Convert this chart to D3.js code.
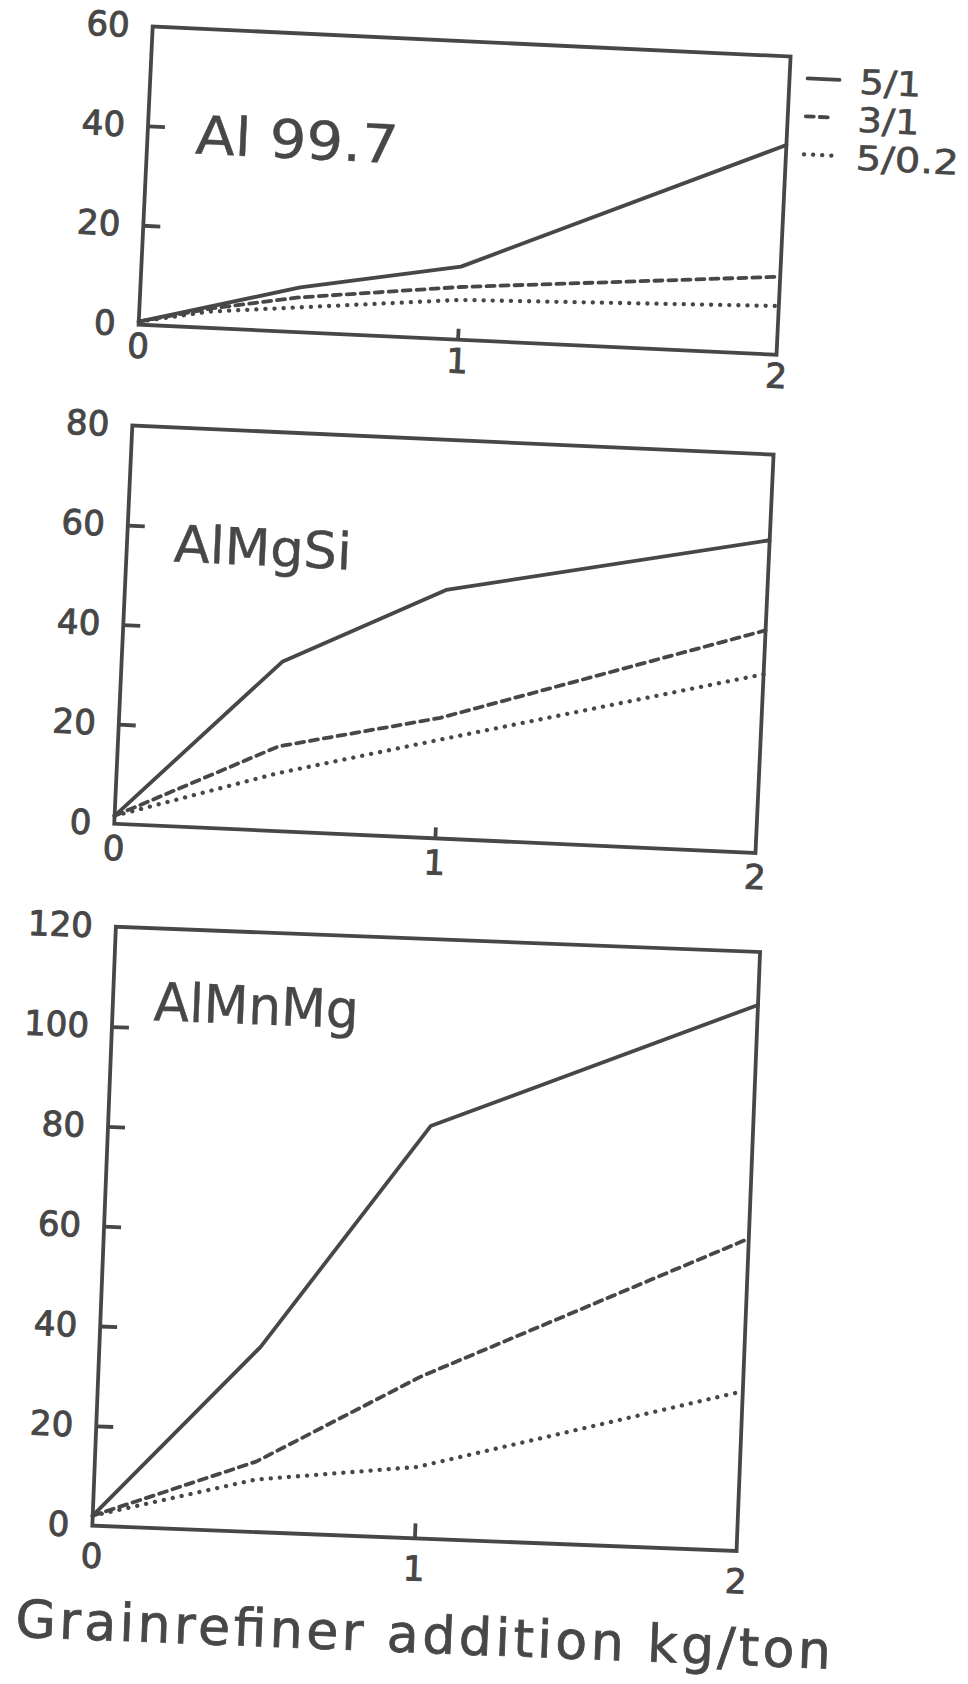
<!DOCTYPE html>
<html>
<head>
<meta charset="utf-8">
<script src="https://cdn.jsdelivr.net/npm/d3@7"></script>
<style>
  body { margin: 0; background: #fff; }
  svg { display: block; }
</style>
</head>
<body>
<svg id="chart" width="968" height="1684"></svg>
<script>
// grain refiner types (Ti/B ratio) and alloys
const seriesNames = ["5/1", "3/1", "5/0.2"];
const alloys = ["Al 99.7", "AlMgSi", "AlMnMg"];
const xLabels = [0, 1, 2];
const yLabelsAl = [0, 20, 40, 60];
const yLabelsMgSi = [0, 20, 40, 60, 80];
const yLabelsMnMg = [0, 20, 40, 60, 80, 100, 120];

// [addition kg/ton, value]
const al997_51 = [[0, 0.6], [0.5, 9], [1, 14.7], [2, 42.2]];
const al997_31 = [[0, 0.6], [0.23, 4], [0.5, 7], [1, 10.6], [2, 15.7]];
const al997_502 = [[0, 0.6], [0.22, 3.3], [1, 8], [2, 9.8]];

const almgsi_51 = [[0, 1.6], [0.5, 34], [1, 49.9], [2, 62.8]];
const almgsi_31 = [[0, 1.6], [0.5, 17], [1, 24.2], [2, 44.7]];
const almgsi_502 = [[0, 1.6], [0.5, 11.6], [1, 19.8], [2, 35.9]];

const almnmg_51 = [[0, 2], [0.5, 37.1], [1, 82.6], [2, 109.4]];
const almnmg_31 = [[0, 2], [0.5, 14.1], [1, 32.4], [2, 62.6]];
const almnmg_502 = [[0, 2], [0.5, 10.5], [1, 14.3], [2, 32]];

const xTitle = "Grainrefiner addition kg/ton";

const ink = "#474747";
const dashes = [null, "8 6", "0.1 9"];
const widths = [3.8, 3.8, 4.3];
const font = "'DejaVu Sans', sans-serif";

// the scan is slightly rotated, every panel gets its own tilt
const panels = [
  { name: alloys[0], yLabels: yLabelsAl, series: [al997_51, al997_31, al997_502],
    cx: 464.6, cy: 190.6, w: 638.6, h: 298.5, angle: 2.7,
    titleX: 48, titleY: 125, titleSize: 53, titleLen: 203, xPad: 9, xTick: 11, legend: true },
  { name: alloys[1], yLabels: yLabelsMgSi, series: [almgsi_51, almgsi_31, almgsi_502],
    cx: 443.9, cy: 639.2, w: 641.9, h: 398.7, angle: 2.6,
    titleX: 47, titleY: 134, titleSize: 51, titleLen: 178, xPad: 12, xTick: 11 },
  { name: alloys[2], yLabels: yLabelsMnMg, series: [almnmg_51, almnmg_31, almnmg_502],
    cx: 426.2, cy: 1238.85, w: 644.7, h: 599.4, angle: 2.25,
    titleX: 41, titleY: 92, titleSize: 53, titleLen: 205, xPad: 18, xTick: 15, xTitle: true }
];

const svg = d3.select("#chart");

// scanned digits are heavier than the regular face
function inkText(sel, w) {
  sel.attr("fill", ink).attr("stroke", ink).attr("stroke-width", w);
}

panels.forEach(p => {
  const left = p.cx - p.w / 2, right = p.cx + p.w / 2,
        top = p.cy - p.h / 2, bottom = p.cy + p.h / 2;

  const g = svg.append("g").attr("transform", `rotate(${p.angle},${p.cx},${p.cy})`);

  const x = d3.scaleLinear().domain([0, 2]).range([left, right]);
  const y = d3.scaleLinear().domain([0, d3.max(p.yLabels)]).range([bottom, top]);

  // frame
  g.append("rect")
    .attr("x", left).attr("y", top)
    .attr("width", p.w).attr("height", p.h)
    .attr("fill", "none")
    .attr("stroke", ink)
    .attr("stroke-width", 3.8);

  // inward tick marks
  g.append("g")
    .attr("transform", `translate(${left},0)`)
    .call(d3.axisLeft(y).tickValues(p.yLabels.slice(1, -1)).tickSizeInner(-17).tickSizeOuter(0).tickFormat(""))
    .call(a => a.select(".domain").remove())
    .selectAll("line").attr("stroke", ink).attr("stroke-width", 3.8);

  g.append("g")
    .attr("transform", `translate(0,${bottom})`)
    .call(d3.axisBottom(x).tickValues([1]).tickSizeInner(-p.xTick).tickSizeOuter(0).tickFormat(""))
    .call(a => a.select(".domain").remove())
    .selectAll("line").attr("stroke", ink).attr("stroke-width", 3.8);

  // tick labels
  g.append("g")
    .attr("transform", `translate(${left},0)`)
    .call(d3.axisLeft(y).tickValues(p.yLabels).tickSize(0).tickPadding(23).tickFormat(d3.format("d")))
    .call(a => a.select(".domain").remove())
    .attr("font-size", 34).attr("font-family", font)
    .selectAll("text").call(inkText, 1);

  g.append("g")
    .attr("transform", `translate(0,${bottom})`)
    .call(d3.axisBottom(x).tickValues(xLabels).tickSize(0).tickPadding(p.xPad).tickFormat(d3.format("d")))
    .call(a => a.select(".domain").remove())
    .attr("font-size", 34).attr("font-family", font)
    .selectAll("text").call(inkText, 1);

  // curves
  const line = d3.line().x(d => x(d[0])).y(d => y(d[1]));
  p.series.forEach((s, i) => {
    g.append("path")
      .datum(s)
      .attr("fill", "none")
      .attr("stroke", ink)
      .attr("stroke-width", widths[i])
      .attr("stroke-linecap", "round")
      .attr("stroke-linejoin", "round")
      .attr("stroke-dasharray", dashes[i])
      .attr("d", line);
  });

  // alloy name
  g.append("text")
    .attr("x", left + p.titleX)
    .attr("y", top + p.titleY)
    .attr("font-family", font)
    .attr("font-size", p.titleSize)
    .attr("textLength", p.titleLen)
    .attr("lengthAdjust", "spacingAndGlyphs")
    .call(inkText, 0.4)
    .text(p.name);

  if (p.legend) {
    const legend = g.append("g").attr("transform", `translate(${right + 18},${top + 21})`);
    const sampleLen = [32, 25, 30];
    const textLen = [62, 62, 103];
    seriesNames.forEach((n, i) => {
      legend.append("line")
        .attr("x1", 0).attr("x2", sampleLen[i])
        .attr("y1", i * 38).attr("y2", i * 38)
        .attr("stroke", ink)
        .attr("stroke-width", widths[i])
        .attr("stroke-linecap", "round")
        .attr("stroke-dasharray", dashes[i]);
      legend.append("text")
        .attr("x", 52)
        .attr("y", i * 38 + 1)
        .attr("dominant-baseline", "central")
        .attr("font-family", font)
        .attr("font-size", 34)
        .attr("textLength", textLen[i])
        .attr("lengthAdjust", "spacingAndGlyphs")
        .call(inkText, 0.6)
        .text(n);
    });
  }

  if (p.xTitle) {
    g.append("text")
      .attr("x", left - 73)
      .attr("y", bottom + 114)
      .attr("font-family", font)
      .attr("font-size", 52)
      .attr("textLength", 816)
      .call(inkText, 0.8)
      .text(xTitle);
  }
});
</script>
</body>
</html>
